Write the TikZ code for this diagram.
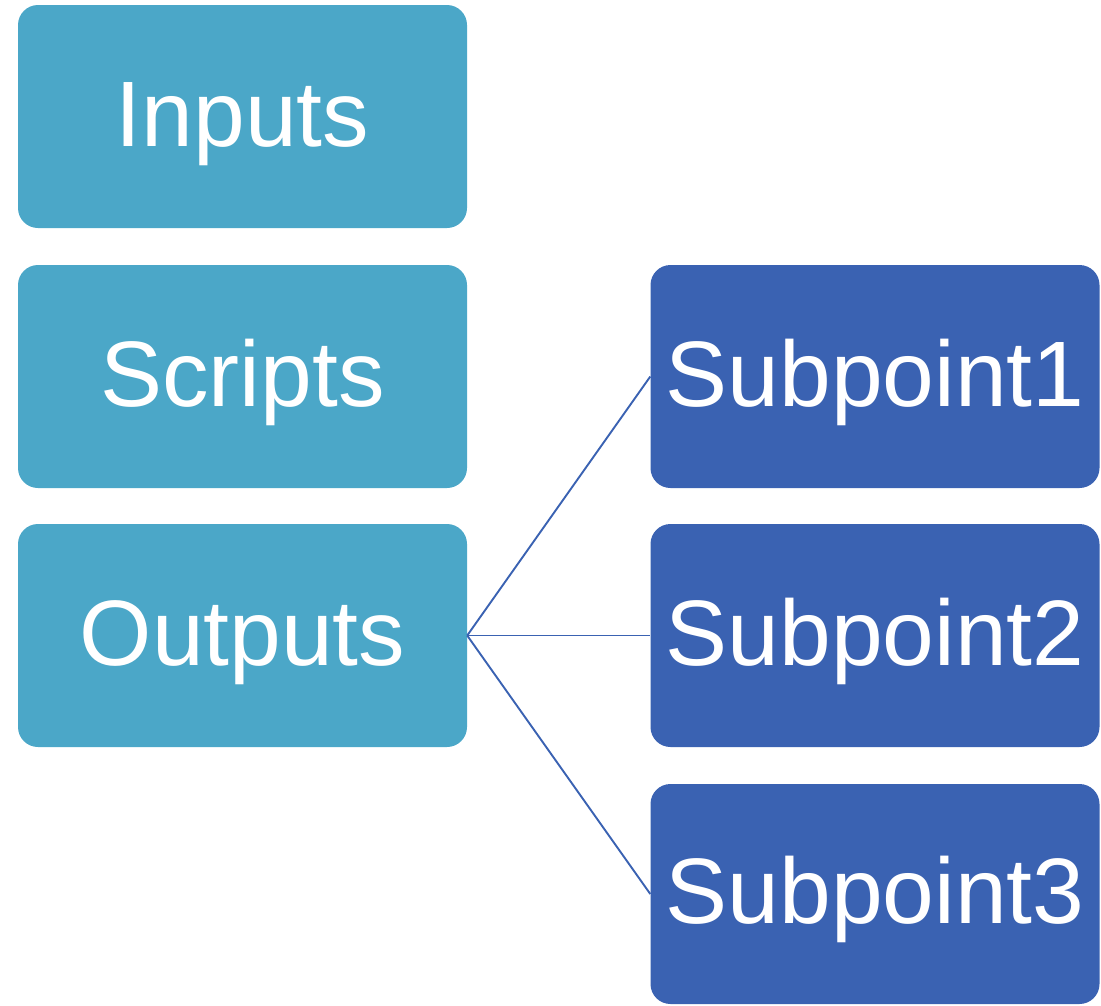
\documentclass[tikz,border=0pt]{standalone}
\usepackage{fontspec}
\setmainfont{Liberation Sans}
\definecolor{mainbox}{HTML}{4BA7C8}
\definecolor{subbox}{HTML}{3A62B2}
\begin{document}
\begin{tikzpicture}[x=1pt,y=-1pt,
  card/.style={rounded corners=20pt, minimum width=449pt, minimum height=223pt,
    inner sep=0pt, text=white, font=\fontsize{93}{93}\selectfont,
    text height=67pt, text depth=8pt, align=center},
  maincard/.style={card, fill=mainbox},
  subcard/.style={card, fill=subbox},
  link/.style={draw=subbox, line width=1.9pt}]
  \useasboundingbox (0,0) rectangle (1101,1005);
  % left column
  \node[maincard] (inputs)  at (242.5,116.5) {Inputs};
  \node[maincard] (scripts) at (242.5,376.5) {Scripts};
  \node[maincard] (outputs) at (242.5,635.5) {Outputs};
  % right column
  \node[subcard] (sub1) at (875,376.5) {Subpoint1};
  \node[subcard] (sub2) at (875,635.5) {Subpoint2};
  \node[subcard, minimum height=220pt] (sub3) at (875,894) {Subpoint3};
  % connectors
  \draw[link] (outputs.east) -- (sub1.west);
  \draw[link] (outputs.east) -- (sub2.west);
  \draw[link] (outputs.east) -- (sub3.west);
\end{tikzpicture}
\end{document}
